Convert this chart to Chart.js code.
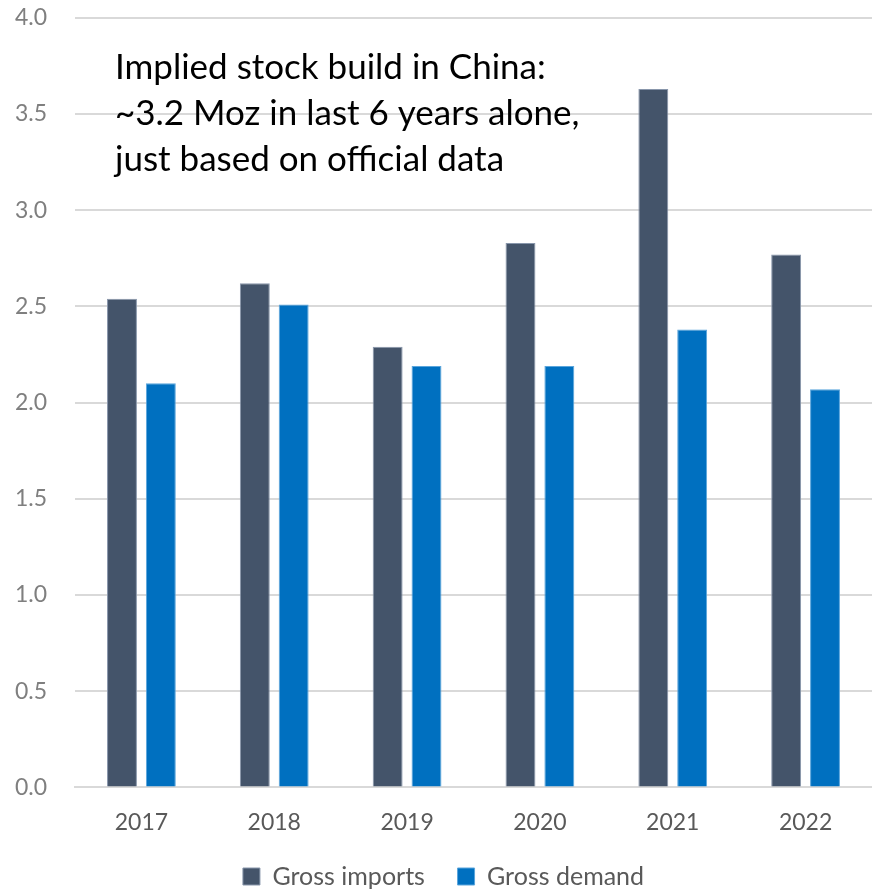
<!DOCTYPE html>
<html lang="en">
<head>
<meta charset="UTF-8">
<title>China gold: gross imports vs gross demand</title>
<script src="https://cdn.jsdelivr.net/npm/chart.js"></script>
<style>
    html, body { margin: 0; padding: 0; background: #fff; }
    #wrap { width: 872px; height: 890px; overflow: hidden; }
    #inner { position: relative; width: 872px; height: 899px; }
</style>
</head>
<body>
<div id="wrap"><div id="inner"><canvas id="chart"></canvas></div></div>
<script>
    const years = ['2017', '2018', '2019', '2020', '2021', '2022'];
    const grossImports = [2.54, 2.62, 2.29, 2.83, 3.63, 2.77];
    const grossDemand = [2.10, 2.51, 2.19, 2.19, 2.38, 2.07];
    const noteLines = [
        'Implied stock build in China:',
        '~3.2 Moz in last 6 years alone,',
        'just based on official data'
    ];

    const fontFamily = 'Lato, "Open Sans", sans-serif';

    // text box in the upper-left of the plot
    const notePlugin = {
        id: 'note',
        afterDraw(chart) {
            const ctx = chart.ctx;
            const area = chart.chartArea;
            ctx.save();
            ctx.font = '35px ' + fontFamily;
            ctx.fillStyle = '#000';
            ctx.textBaseline = 'middle';
            noteLines.forEach((line, i) => {
                ctx.fillText(line, area.left + 40, area.top + 50 + i * 46);
            });
            ctx.restore();
        }
    };

    new Chart(document.getElementById('chart'), {
        type: 'bar',
        data: {
            labels: years,
            datasets: [
                {
                    label: 'Gross imports',
                    data: grossImports,
                    backgroundColor: '#44546A',
                    borderColor: '#8896AB',
                    borderWidth: 1,
                    categoryPercentage: 0.585,
                    barPercentage: 0.77
                },
                {
                    label: 'Gross demand',
                    data: grossDemand,
                    backgroundColor: '#0070C0',
                    borderColor: '#5AA5DC',
                    borderWidth: 1,
                    categoryPercentage: 0.585,
                    barPercentage: 0.77
                }
            ]
        },
        options: {
            responsive: true,
            maintainAspectRatio: false,
            animation: false,
            layout: { padding: { top: 0, right: 0, left: 15, bottom: 0 } },
            plugins: {
                legend: {
                    position: 'bottom',
                    labels: {
                        color: '#595959',
                        font: { family: fontFamily, size: 25 },
                        boxWidth: 17,
                        boxHeight: 17,
                        padding: 7,
                        // wider gap between the two entries
                        generateLabels(chart) {
                            const items = Chart.defaults.plugins.legend.labels.generateLabels(chart);
                            items[0].text += '    ';
                            return items;
                        }
                    }
                },
                tooltip: { enabled: false }
            },
            scales: {
                x: {
                    grid: { display: false, drawTicks: false },
                    border: { color: '#d9d9d9', width: 2 },
                    ticks: {
                        color: '#595959',
                        font: { family: fontFamily, size: 23 },
                        padding: 21
                    }
                },
                y: {
                    min: 0,
                    max: 4,
                    grid: { color: '#d9d9d9', lineWidth: 2, drawTicks: false },
                    border: { display: false },
                    afterFit(scale) { scale.width = 60; },
                    ticks: {
                        stepSize: 0.5,
                        color: '#7f7f7f',
                        font: { family: fontFamily, size: 23 },
                        padding: 4,
                        crossAlign: 'far',
                        callback: v => v.toFixed(1)
                    }
                }
            }
        },
        plugins: [notePlugin]
    });
</script>
</body>
</html>
